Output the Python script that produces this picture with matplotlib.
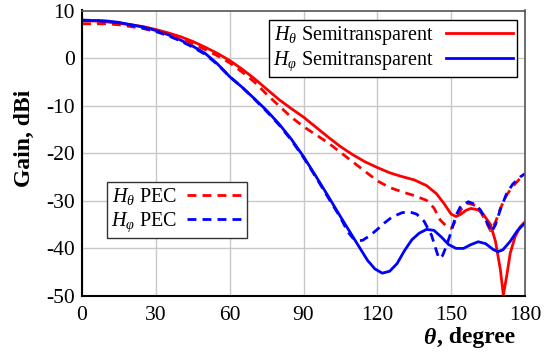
import numpy as np
import matplotlib
matplotlib.use("Agg")
import matplotlib.pyplot as plt

plt.rcParams['font.family'] = ['Liberation Serif', 'DejaVu Serif']
plt.rcParams['mathtext.fontset'] = 'custom'
plt.rcParams['mathtext.rm'] = 'Liberation Serif'
plt.rcParams['mathtext.it'] = 'Liberation Serif:italic'
plt.rcParams['mathtext.bf'] = 'Liberation Serif:bold'
plt.rcParams['axes.unicode_minus'] = False

# H_phi semitransparent (blue solid)
theta_phi_semi = [0, 5, 10, 15, 20, 25, 30, 35, 40, 45, 50, 55, 60, 65, 70, 75, 80, 85, 90,
                  95, 100, 105, 110, 113, 116, 119, 122, 125, 128, 131, 134, 137, 140, 143,
                  146, 149, 152, 155, 158, 161, 164, 167, 169, 171, 174, 177, 180]
gain_phi_semi = [7.9, 7.9, 7.8, 7.5, 7.0, 6.5, 5.8, 4.9, 3.8, 2.5, 1.0, -1.2, -3.9, -6.1, -8.5,
                 -11.0, -13.8, -17.0, -20.7, -24.8, -29.0, -33.3, -37.5, -40.0, -42.5, -44.3,
                 -45.2, -44.8, -43.2, -40.5, -38.2, -36.8, -36.0, -36.2, -37.6, -39.2, -40.0,
                 -40.0, -39.2, -38.6, -39.0, -40.2, -40.7, -40.3, -38.5, -36.2, -34.7]

# H_phi PEC (blue dashed)
theta_phi_pec = [0, 5, 10, 15, 20, 25, 30, 35, 40, 45, 50, 55, 60, 65, 70, 75, 80, 85, 90, 95,
                 100, 105, 108, 110, 112, 114, 117, 120, 123, 126, 130, 133, 136, 139, 142, 144,
                 145, 146.5, 148, 150, 152, 154, 157, 160, 162, 164, 166.5, 168, 170, 172.5,
                 175, 178, 180]
gain_phi_pec = [8.0, 7.9, 7.7, 7.4, 6.9, 6.3, 5.6, 4.7, 3.6, 2.3, 0.8, -1.3, -3.9, -6.1, -8.6,
                -11.2, -14.0, -17.2, -20.9, -25.0, -29.3, -33.5, -36.5, -37.8, -38.4, -38.3,
                -37.3, -36.0, -34.6, -33.4, -32.5, -32.3, -32.8, -34.3, -37.2, -40.5, -42.1,
                -41.5, -39.6, -36.5, -33.0, -31.0, -30.2, -30.8, -32.0, -34.0, -36.5, -35.0,
                -31.8, -28.5, -26.5, -25.0, -24.3]

# H_theta semitransparent (red solid)
theta_th_semi = [0, 5, 10, 15, 20, 25, 30, 35, 40, 45, 50, 55, 60, 65, 70, 75, 80, 85, 90, 95,
                 100, 105, 110, 115, 120, 125, 130, 135, 140, 144, 147, 150, 152, 154, 156, 158,
                 161, 163, 166, 168, 170, 171.2, 172.5, 174, 176, 178, 180]
gain_th_semi = [7.8, 7.8, 7.6, 7.3, 7.0, 6.6, 6.0, 5.3, 4.5, 3.5, 2.3, 1.0, -0.5, -2.3, -4.3,
                -6.5, -8.7, -10.6, -12.4, -14.5, -16.6, -18.6, -20.3, -21.8, -23.0, -24.1,
                -24.9, -25.6, -26.8, -28.5, -30.5, -32.8, -33.3, -32.8, -32.0, -31.6, -31.9,
                -32.8, -35.0, -38.5, -44.5, -49.8, -46.0, -41.0, -37.5, -35.5, -34.4]

# H_theta PEC (red dashed)
theta_th_pec = [0, 5, 10, 15, 20, 25, 30, 35, 40, 45, 50, 55, 60, 65, 70, 75, 80, 85, 90, 95,
                100, 105, 110, 115, 120, 125, 130, 135, 140, 143, 145.5, 148, 150, 152, 154,
                157, 160, 162, 164, 166, 168, 170, 172.5, 175, 178, 180]
gain_th_pec = [7.2, 7.2, 7.2, 7.0, 6.6, 6.2, 5.6, 4.9, 4.0, 3.0, 1.8, 0.5, -1.0, -2.9, -5.0,
               -7.6, -10.0, -12.4, -14.4, -16.1, -17.8, -19.8, -21.8, -23.8, -25.8, -27.2,
               -28.1, -28.9, -29.9, -31.5, -34.0, -35.3, -35.8, -34.0, -31.8, -30.5, -31.0,
               -32.3, -34.2, -36.3, -34.5, -31.6, -28.8, -27.0, -25.3, -24.6]

x_ticks = [0, 30, 60, 90, 120, 150, 180]
y_ticks = [-50, -40, -30, -20, -10, 0, 10]

red = '#ff0000'
blue = '#0000ff'
dash = (0, (3.2, 2.2))

fig = plt.figure(figsize=(5.52, 3.54), dpi=100)
ax = fig.add_axes([82 / 552, 1 - 296 / 354, 443 / 552, 285.5 / 354])

l1, = ax.plot(theta_th_semi, gain_th_semi, color=red, lw=2.0, label=r'$H_\theta$ Semitransparent')
l2, = ax.plot(theta_phi_semi, gain_phi_semi, color=blue, lw=2.0, label=r'$H_\varphi$ Semitransparent')
l3, = ax.plot(theta_th_pec, gain_th_pec, color=red, lw=2.0, ls=dash, label=r'$H_\theta$ PEC')
l4, = ax.plot(theta_phi_pec, gain_phi_pec, color=blue, lw=2.0, ls=dash, label=r'$H_\varphi$ PEC')

ax.set_xlim(0, 180)
ax.set_ylim(-50, 10)
ax.set_xticks(x_ticks)
ax.set_yticks(y_ticks)
ax.tick_params(length=0, labelsize=15.5)
ax.tick_params(axis='x', pad=7)
ax.tick_params(axis='y', pad=5)
ax.grid(True, color='#c8c8c8', lw=1.0)
ax.set_axisbelow(True)

for side in ['left', 'bottom']:
    ax.spines[side].set_color('black')
    ax.spines[side].set_linewidth(1.5)
for side in ['top', 'right']:
    ax.spines[side].set_color('#555555')
    ax.spines[side].set_linewidth(1.2)

leg1 = ax.legend(handles=[l1, l2], loc='upper right', bbox_to_anchor=(0.981, 0.968),
                 markerfirst=False, fontsize=14.5, handlelength=3.3, handletextpad=0.6,
                 labelspacing=0.15, borderpad=0.2, borderaxespad=0, fancybox=False,
                 framealpha=1, edgecolor='black')
leg1.get_frame().set_linewidth(1.0)
ax.add_artist(leg1)

leg2 = ax.legend(handles=[l3, l4], loc='upper left', bbox_to_anchor=(0.0558, 0.399),
                 markerfirst=False, fontsize=14.5, handlelength=2.8, handletextpad=0.5,
                 labelspacing=0.15, borderpad=0.2, borderaxespad=0, fancybox=False,
                 framealpha=1, edgecolor='#333333')
leg2.get_frame().set_linewidth(1.0)

fig.text(24.5 / 552, 1 - 138 / 354, 'Gain, dBi', rotation=90, fontsize=17, fontweight='bold',
         ha='center', va='center')
t = fig.text(423 / 552, 1 - 338 / 354, 'θ', fontsize=17, fontweight='bold', fontstyle='italic',
             ha='left', va='center')
ax.annotate(', degree', xy=(1, 0), xycoords=t, xytext=(1, 0), textcoords='offset points',
            fontsize=17, fontweight='bold', ha='left', va='bottom')

fig.savefig('out.png', dpi=100)
